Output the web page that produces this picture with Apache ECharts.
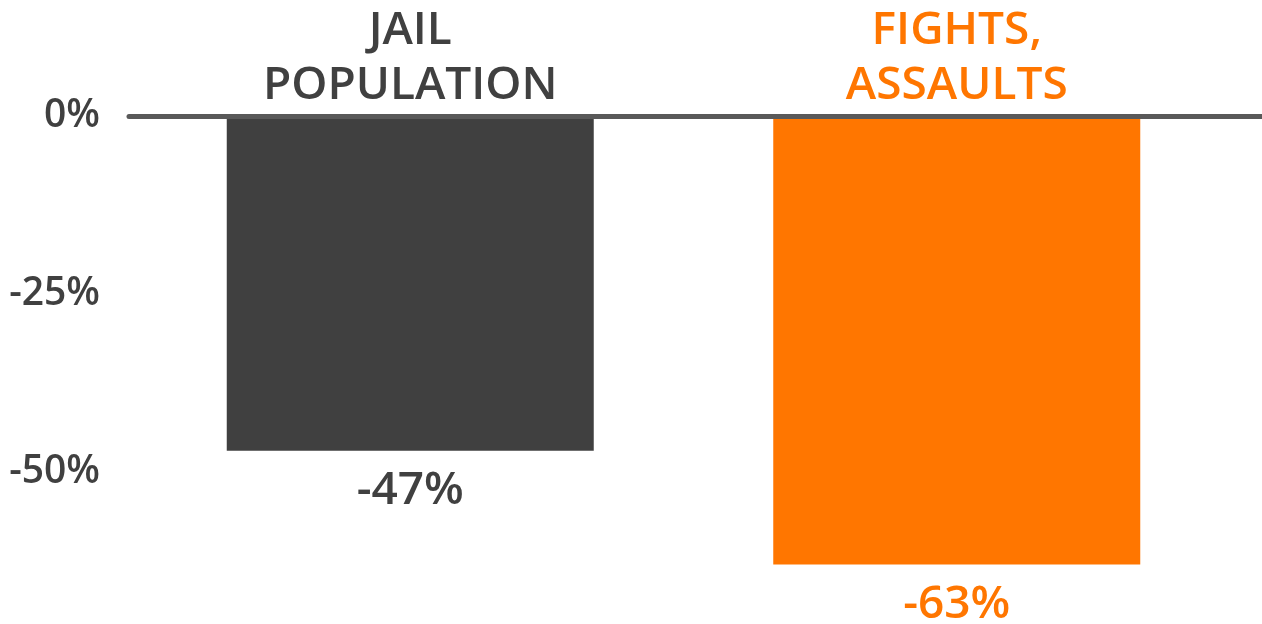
<!DOCTYPE html>
<html>
<head>
<meta charset="utf-8">
<script src="https://cdn.jsdelivr.net/npm/echarts@6/dist/echarts.min.js"></script>
<style>
html,body{margin:0;padding:0;background:#fff;}
#chart{width:1262px;height:624px;}
</style>
</head>
<body>
<div id="chart"></div>
<script>
/*数据*/
var categories = ['JAIL\nPOPULATION', 'FIGHTS,\nASSAULTS'];
var values = [-47, -63];
var yTicks = [0, -25, -50];

var barColors = ['#404040', '#ff7600'];

(function(){
	var chart = echarts.init(document.getElementById('chart'));
	var fontFamily = '"Open Sans", Lato, sans-serif';

	var barData = values.map(function(v, i){
		return {
			value : v,
			itemStyle : { color : barColors[i] },
			label : { color : barColors[i] }
		};
	});

	var option = {
		animation : false,
		grid : [
			{ left : 137, right : 32, top : 116, height : 534, outerBoundsMode : 'none' },
			{ left : 129, right : 0, top : 116, height : 534, outerBoundsMode : 'none' }
		],
		xAxis : [ {
			type : 'category',
			gridIndex : 0,
			position : 'top',
			data : categories,
			axisLine : { show : false },
			axisTick : { show : false },
			axisLabel : {
				margin : 3,
				fontSize : 46,
				lineHeight : 55,
				fontWeight : 600,
				fontFamily : fontFamily,
				color : function(value, index){
					return barColors[index];
				}
			}
		}, {
			type : 'category',
			gridIndex : 1,
			position : 'top',
			data : categories,
			z : 5,
			axisLine : { onZero : false, lineStyle : { color : '#595959', width : 5 } },
			axisTick : { show : false },
			axisLabel : { show : false }
		} ],
		yAxis : [ {
			type : 'value',
			gridIndex : 0,
			min : -75,
			max : 0,
			interval : 25,
			splitLine : { show : false },
			axisLine : { show : false },
			axisTick : { show : false },
			axisLabel : {
				margin : 37,
				fontSize : 39,
				fontWeight : 600,
				fontFamily : fontFamily,
				color : '#404040',
				formatter : function(v){
					return yTicks.indexOf(v) >= 0 ? v + '%' : '';
				}
			}
		}, {
			type : 'value',
			gridIndex : 1,
			min : -75,
			max : 0,
			show : false
		} ],
		series : [ {
			type : 'bar',
			xAxisIndex : 0,
			yAxisIndex : 0,
			barWidth : 367,
			data : barData,
			label : {
				show : true,
				position : 'bottom',
				distance : 17,
				fontSize : 46,
				fontWeight : 600,
				fontFamily : fontFamily,
				formatter : '{c}%'
			}
		} ]
	};
	chart.setOption(option);
})();
</script>
</body>
</html>
